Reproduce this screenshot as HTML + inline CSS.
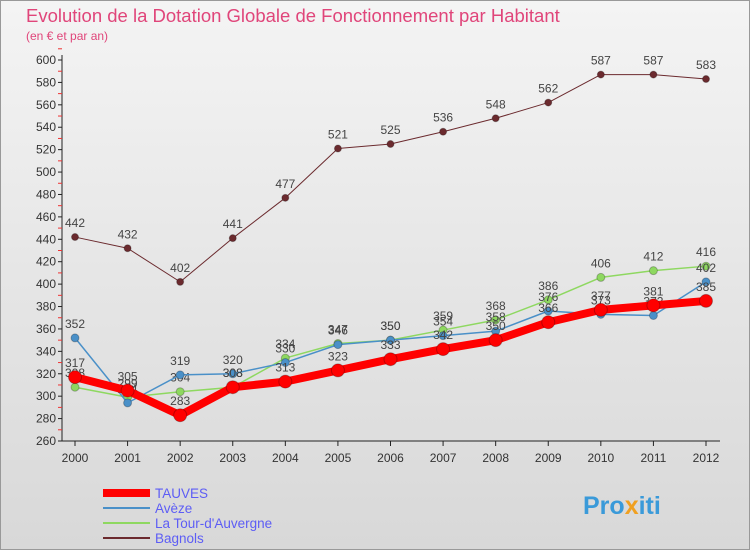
<!DOCTYPE html>
<html><head><meta charset="utf-8"><style>
body{margin:0;width:750px;height:550px;overflow:hidden;font-family:"Liberation Sans",sans-serif}
svg{display:block}
</style></head><body>
<svg width="750" height="550" id="c">
<defs><linearGradient id="bg" x1="0" y1="0" x2="0" y2="1"><stop offset="0" stop-color="#f4f4f4"/><stop offset="1" stop-color="#d8d8d8"/></linearGradient></defs>
<rect x="0.5" y="0.5" width="749" height="549" fill="url(#bg)" stroke="#999"/>
<text x="26" y="22" font-size="18.5" fill="#e0457a">Evolution de la Dotation Globale de Fonctionnement par Habitant</text>
<text x="26" y="40" font-size="12" fill="#e0457a">(en € et par an)</text>
<g id="axes"></g><g id="series"></g>
<g font-size="13.5" fill="#5d5df5">
<line x1="103" y1="493" x2="150" y2="493" stroke="#f00" stroke-width="8"/>
<text x="155" y="498">TAUVES</text>
<line x1="103" y1="508" x2="150" y2="508" stroke="#4a90c8" stroke-width="2"/>
<text x="155" y="513">Avèze</text>
<line x1="103" y1="523" x2="150" y2="523" stroke="#8ed860" stroke-width="2"/>
<text x="155" y="528">La Tour-d'Auvergne</text>
<line x1="103" y1="538" x2="150" y2="538" stroke="#6b2a2e" stroke-width="2"/>
<text x="155" y="543">Bagnols</text>
</g>
<text x="583" y="514" font-size="25" font-weight="bold" fill="#3a9ad9">Pro<tspan fill="#f0a020">x</tspan>iti</text>
</svg>
<script>
const years=[2000,2001,2002,2003,2004,2005,2006,2007,2008,2009,2010,2011,2012];
const tauves=[317,305,283,308,313,323,333,342,350,366,377,381,385];
const aveze=[352,294,319,320,330,346,350,354,358,376,373,372,402];
const latour=[308,299,304,308,334,347,350,359,368,386,406,412,416];
const bagnols=[442,432,402,441,477,521,525,536,548,562,587,587,583];
const yTicks=[260,280,300,320,340,360,380,400,420,440,460,480,500,520,540,560,580,600];
const NS="http://www.w3.org/2000/svg";
const x=i=>75+i*(706-75)/(years.length-1);
const y=v=>441-(v-260)*(441-60)/(600-260);
function mk(t,a,p){const e=document.createElementNS(NS,t);for(const k in a)e.setAttribute(k,a[k]);p.appendChild(e);return e;}
const ax=document.getElementById('axes');
const yl=mk('line',{x1:62,y1:55,x2:62,y2:441,stroke:'#222'},ax);


const xl=mk('line',{x1:62,y1:441,x2:720,y2:441,stroke:'#222'},ax);


yTicks.forEach(v=>{
 mk('line',{x1:58,y1:y(v),x2:62,y2:y(v),stroke:'#222'},ax);
 mk('line',{x1:58,y1:y(v+10),x2:62,y2:y(v+10),stroke:'#e33'},ax);
 const t=mk('text',{x:56,y:y(v)+4,'font-size':12,'text-anchor':'end',fill:'#333'},ax);t.textContent=v;
 
 
});
years.forEach((yr,i)=>{
 mk('line',{x1:x(i),y1:441,x2:x(i),y2:446,stroke:'#222'},ax);
 const t=mk('text',{x:x(i),y:462,'font-size':12,'text-anchor':'middle',fill:'#333'},ax);t.textContent=yr;
 
 
});
const sg=document.getElementById('series');
function draw(data,color,w,r,name){
 const g=mk('g',{},sg);
 
 
 const pl=mk('polyline',{points:data.map((v,i)=>x(i)+','+y(v)).join(' '),fill:'none',stroke:color,'stroke-width':w,'stroke-linejoin':'round'},g);
 
 
 data.forEach((v,i)=>{
  const c=mk('circle',{cx:x(i),cy:y(v),r:r,fill:color,stroke:'rgba(0,0,0,0.25)'},g);
  
  
  const t=mk('text',{x:x(i),y:y(v)-10,'font-size':12,'text-anchor':'middle',fill:'#444'},g);t.textContent=v;
  
  
 });
}
draw(bagnols,'#6b2a2e',1,3.5,'bagnols');
draw(latour,'#8ed860',1.5,4,'latour');
draw(aveze,'#4a90c8',1.5,4,'aveze');
draw(tauves,'#f00',8,6.5,'tauves');
</script>
</body></html>
